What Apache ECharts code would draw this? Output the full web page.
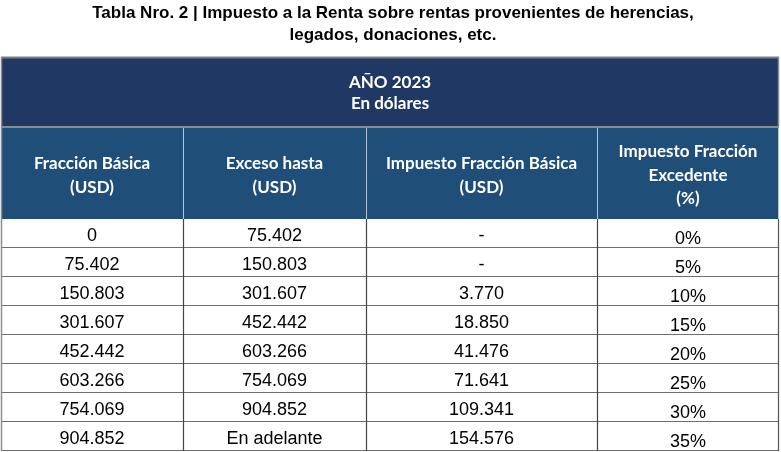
<!DOCTYPE html>
<html>
<head>
<meta charset="utf-8">
<script src="https://cdn.jsdelivr.net/npm/echarts@6/dist/echarts.min.js"></script>
<style>html,body{margin:0;padding:0;background:#fff}#c{width:781px;height:452px}</style>
</head>
<body>
<div id="c"></div>
<script>
// ---- data ----
const chartTitle = 'Tabla Nro. 2 | Impuesto a la Renta sobre rentas provenientes de herencias,\nlegados, donaciones, etc.';
const bandTitle = 'AÑO 2023\nEn dólares';
const columnHeaders = ['Fracción Básica\n(USD)', 'Exceso hasta\n(USD)', 'Impuesto Fracción Básica\n(USD)', 'Impuesto Fracción\nExcedente\n(%)'];
const fraccionBasica = [0, 75402, 150803, 301607, 452442, 603266, 754069, 904852];
const excesoHasta = [75402, 150803, 301607, 452442, 603266, 754069, 904852, null];
const impuestoFraccionBasica = [null, null, 3770, 18850, 41476, 71641, 109341, 154576];
const impuestoFraccionExcedente = [0, 5, 10, 15, 20, 25, 30, 35];

// ---- layout ----
const colEdges = [0, 182, 365, 596, 778];
const BAND_H = 70, HEAD_H = 92, ROW_H = 29;
const nRows = fraccionBasica.length;
const totalH = BAND_H + HEAD_H + ROW_H * nRows;

function fmt(n) { return String(n).replace(/\B(?=(\d{3})+(?!\d))/g, '.'); }

const rowsText = fraccionBasica.map((v, i) => [
  fmt(v),
  excesoHasta[i] == null ? 'En adelante' : fmt(excesoHasta[i]),
  impuestoFraccionBasica[i] == null ? '-' : fmt(impuestoFraccionBasica[i]),
  impuestoFraccionExcedente[i] + '%'
]);

const items = [];
items.push({ value: [0, 0, 0], text: bandTitle, kind: 'band' });
columnHeaders.forEach((t, c) => items.push({ value: [1, 0, c], text: t, kind: 'head' }));
rowsText.forEach((r, i) => r.forEach((t, c) => items.push({ value: [2, i, c], text: t, kind: 'cell' })));

const HEAD_FONT = 'bold 17px Lato, "Open Sans", sans-serif';

function renderItem(params, api) {
  const it = items[params.dataIndex];
  const kind = it.kind, row = it.value[1], col = it.value[2];
  let y0, y1, x0, x1;
  if (kind === 'band') { y0 = 0; y1 = BAND_H; x0 = colEdges[0]; x1 = colEdges[colEdges.length - 1]; }
  else if (kind === 'head') { y0 = BAND_H; y1 = BAND_H + HEAD_H; x0 = colEdges[col]; x1 = colEdges[col + 1]; }
  else { y0 = BAND_H + HEAD_H + ROW_H * row; y1 = y0 + ROW_H; x0 = colEdges[col]; x1 = colEdges[col + 1]; }
  const p0 = api.coord([x0, y0]);
  const p1 = api.coord([x1, y1]);
  const L = Math.min(p0[0], p1[0]), R = Math.max(p0[0], p1[0]);
  const T = Math.min(p0[1], p1[1]), B = Math.max(p0[1], p1[1]);
  const cx = (L + R) / 2, cy = (T + B) / 2;
  const children = [];
  let fill, textStyle, dy = 0;
  if (kind === 'band') {
    fill = '#1f3864';
    textStyle = { fill: '#fff', font: HEAD_FONT, lineHeight: 21 };
    dy = 1;
  } else if (kind === 'head') {
    fill = '#1f4e79';
    textStyle = { fill: '#fff', font: HEAD_FONT, lineHeight: 23.5 };
    dy = 2.5;
  } else {
    fill = '#ffffff';
    textStyle = { fill: '#000', font: '18px "Liberation Sans", Arial, sans-serif', lineHeight: 20 };
    dy = col === 3 ? 5.5 : 3;
  }
  children.push({ type: 'rect', shape: { x: L, y: T, width: R - L, height: B - T }, style: { fill: fill }, z2: 1 });
  children.push({ type: 'text', x: cx, y: cy + dy, style: Object.assign({ text: it.text, align: 'center', verticalAlign: 'middle' }, textStyle), z2: 5 });
  if (kind === 'band') {
    children.push({ type: 'line', shape: { x1: L, y1: T + 0.5, x2: R, y2: T + 0.5 }, style: { stroke: '#7f7f7f', lineWidth: 2 }, z2: 10 });
    children.push({ type: 'line', shape: { x1: L, y1: B, x2: R, y2: B }, style: { stroke: '#8c8c8c', lineWidth: 2 }, z2: 10 });
    children.push({ type: 'line', shape: { x1: L + 0.5, y1: T, x2: L + 0.5, y2: B }, style: { stroke: '#8c8c8c', lineWidth: 1.5 }, z2: 10 });
    children.push({ type: 'line', shape: { x1: R - 0.5, y1: T, x2: R - 0.5, y2: B }, style: { stroke: '#8c8c8c', lineWidth: 1.5 }, z2: 10 });
  } else if (kind === 'head') {
    if (col > 0) children.push({ type: 'line', shape: { x1: L + 0.5, y1: T + 1, x2: L + 0.5, y2: B }, style: { stroke: '#b8c4d4', lineWidth: 1 }, z2: 9 });
    else children.push({ type: 'line', shape: { x1: L + 0.5, y1: T, x2: L + 0.5, y2: B }, style: { stroke: '#8c8c8c', lineWidth: 1.5 }, z2: 9 });
    if (col === columnHeaders.length - 1) children.push({ type: 'line', shape: { x1: R - 0.5, y1: T, x2: R - 0.5, y2: B }, style: { stroke: '#b8c4d4', lineWidth: 1 }, z2: 9 });
  } else {
    children.push({ type: 'line', shape: { x1: L, y1: B - 0.5, x2: R, y2: B - 0.5 }, style: { stroke: '#6e6e6e', lineWidth: 1.2 }, z2: 8 });
    children.push({ type: 'line', shape: { x1: L + 0.5, y1: T, x2: L + 0.5, y2: B }, style: { stroke: col === 0 ? '#8c8c8c' : '#444', lineWidth: col === 0 ? 1.5 : 1.2 }, z2: 9 });
    if (col === 3) children.push({ type: 'line', shape: { x1: R - 0.5, y1: T, x2: R - 0.5, y2: B }, style: { stroke: '#555', lineWidth: 1.2 }, z2: 9 });
  }
  return { type: 'group', children: children };
}

const chart = echarts.init(document.getElementById('c'), null, { renderer: 'canvas' });
chart.setOption({
  animation: false,
  backgroundColor: '#fff',
  title: {
    text: chartTitle,
    left: 388, top: -3, textAlign: 'center',
    textStyle: { fontFamily: '"Liberation Sans", Arial, sans-serif', fontWeight: 'bold', fontSize: 17, lineHeight: 22, color: '#000' }
  },
  grid: { left: 1, top: 57, width: 778, height: totalH, containLabel: false },
  xAxis: { type: 'value', min: colEdges[0], max: colEdges[colEdges.length - 1], show: false },
  yAxis: { type: 'value', min: 0, max: totalH, inverse: true, show: false },
  series: [{
    type: 'custom',
    renderItem: renderItem,
    data: items.map(d => d.value),
    silent: true,
    clip: false
  }]
});
</script>
</body>
</html>
